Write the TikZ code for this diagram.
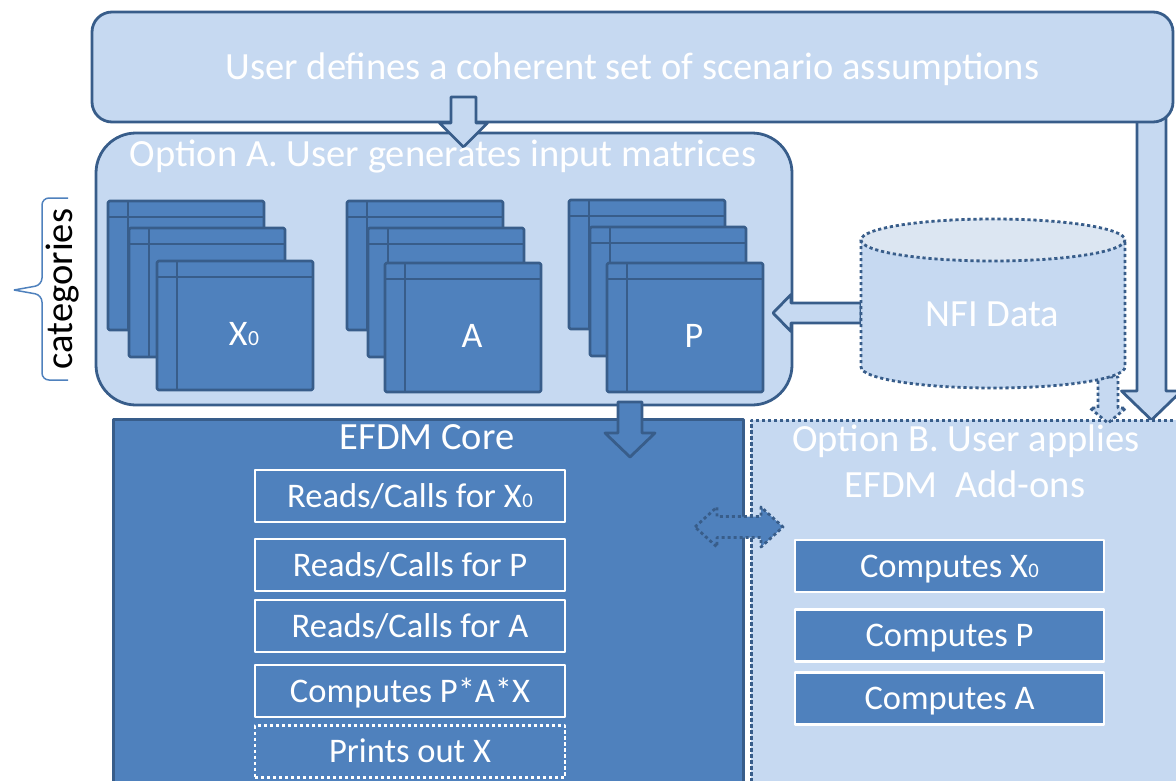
\documentclass[tikz,border=0pt]{standalone}
\usepackage{fontspec}
\setmainfont{Carlito}
\usetikzlibrary{positioning}
\definecolor{lightblue}{HTML}{C6D9F1}
\definecolor{paleblue}{HTML}{DCE6F2}
\definecolor{midblue}{HTML}{4F81BD}
\definecolor{darkblue}{HTML}{385D8A}
\def\fbig{\fontsize{38.5pt}{47pt}\selectfont}
\def\fmid{\fontsize{34.5pt}{40pt}\selectfont}
\def\Xo{X\kern0.5pt\scalebox{0.6}{0}}
% down block arrow: style, x, top, tip, shaft half, head half, head length
\newcommand{\arrdown}[7]{%
	\draw[#1] (#2-#5,#3) -- (#2+#5,#3) -- (#2+#5,#4-#7) -- (#2+#6,#4-#7)
		-- (#2,#4) -- (#2-#6,#4-#7) -- (#2-#5,#4-#7) -- cycle;}
\newcommand{\sheet}[2]{%
	\draw[sheetbox] (#1,#2) rectangle ++(156,129);
	\draw[sheetline] (#1,#2+16) -- ++(156,0) (#1+20,#2) -- ++(0,129);}
\newcommand{\matstack}[6]{%
	\foreach \dx/\dy in {0/0,21/27,#4/#5} {\sheet{#2+\dx}{#3+\dy}}
	\node[lbl] (#1) at (#2+#4+87,#3+#5+73) {#6};}

\begin{document}
\begin{tikzpicture}[x=1pt,y=-1pt,line join=round,
	box/.style={draw=darkblue,line width=2.8pt},
	lightbox/.style={box,fill=lightblue},
	dots/.style={dash pattern=on 3.2pt off 2.8pt},
	txt/.style={text=white,font=\fbig,text height=34.4pt,text depth=9.6pt,inner sep=0pt},
	lbl/.style={text=white,font=\fontsize{36pt}{42pt}\selectfont,text height=32.2pt,text depth=9pt,inner sep=0pt},
	task/.style={draw=white,line width=2.8pt,fill=midblue,text=white,font=\fmid,
		minimum width=310pt,minimum height=52pt,text height=30.8pt,text depth=8.6pt,
		inner sep=0pt,outer sep=0pt},
	sheetbox/.style={draw=darkblue,fill=midblue,line width=2.6pt,rounded corners=1.5pt},
	sheetline/.style={draw=darkblue,line width=2.6pt}]
	\useasboundingbox (0,0) rectangle (1176,780);
	\clip (0,0) rectangle (1176,780);

	\arrdown{lightbox}{1151.5}{110}{420}{14.5}{30}{29}
	\node[lightbox,txt,rounded corners=20pt,minimum width=1081pt,minimum height=110pt] (scen) at (632.5,67) {User defines a coherent set of scenario assumptions};
	\node[lightbox,rounded corners=40pt,minimum width=696pt,minimum height=272pt] (optA) at (444,269) {};
	\arrdown{lightbox}{463.5}{97}{147}{12.5}{24}{24}
	\node[txt] (optAtitle) at (443,154) {Option A. User generates input matrices};

	\matstack{X0}{108}{201}{49}{60}{\Xo}
	\matstack{A}{347}{201}{38}{62}{A}
	\matstack{P}{569}{200}{38}{63}{P}

	\node[box,fill=midblue,minimum width=630pt,minimum height=400pt,anchor=north west] (core) at (112,418) {};
	\node[box,dots,fill=lightblue,minimum width=440pt,minimum height=400pt,anchor=north west] (optB) at (750,419) {};
	\arrdown{box,fill=midblue}{630}{402}{457}{12}{25}{24}
	\arrdown{box,dots,fill=lightblue}{1108}{377}{423}{10}{18}{15}

	% NFI data feeds P
	\draw[lightbox] (861,303) -- (791,303) -- (791,294.5) -- (773,313) -- (791,331.5) -- (791,323) -- (861,323) -- cycle;
	\coordinate (nfitop) at (993,240);
	\fill[lightblue] (861,240) -- (861,367) arc[start angle=180,end angle=0,x radius=132,y radius=21] -- (1125,240) -- cycle;
	\draw[box,dots] (861,240) -- (861,367) arc[start angle=180,end angle=0,x radius=132,y radius=21] -- (1125,240);
	\draw[box,dots,fill=paleblue] (nfitop) ellipse[x radius=132,y radius=21];
	\node[txt] (nfi) at (992.5,314.5) {NFI Data};

	\draw[box,dots,fill=midblue] (695,527) -- (717,507) -- (717,516.5) -- (761,516.5) -- (761,507)
		-- (783,527) -- (761,547) -- (761,537.5) -- (717,537.5) -- (717,547) -- cycle;

	\node[txt] (coretitle) at (427,437) {EFDM Core};
	\node[task] (rx) at (410,496) {Reads/Calls for \Xo};
	\node[task,below=17pt of rx] (rp) {Reads/Calls for P};
	\node[task,below=9pt of rp] (ra) {Reads/Calls for A};
	\node[task,below=13pt of ra] (rc) {Computes P*A*X};
	\node[task,dots,below=8.5pt of rc] (pr) {Prints out X};

	\node[txt] (optBt1) at (966,439) {Option B. User applies};
	\node[txt] (optBt2) at (965,485) {EFDM~~Add-ons};
	\node[task,minimum width=309pt] (cx) at (949.5,566) {Computes \Xo};
	\node[task,minimum width=309pt,below=17.5pt of cx] (cp) {Computes P};
	\node[task,minimum width=309pt,below=11pt of cp] (ca) {Computes A};

	\node[rotate=90,anchor=base,font=\fbig] (cat) at (72,289) {categories};
	\draw[midblue,line width=1.5pt,rounded corners=7pt] (68,198) -- (42,198) -- (42,285) -- (14,290);
	\draw[midblue,line width=1.5pt,rounded corners=7pt] (68,380) -- (42,380) -- (42,295) -- (14,290);
\end{tikzpicture}
\end{document}
